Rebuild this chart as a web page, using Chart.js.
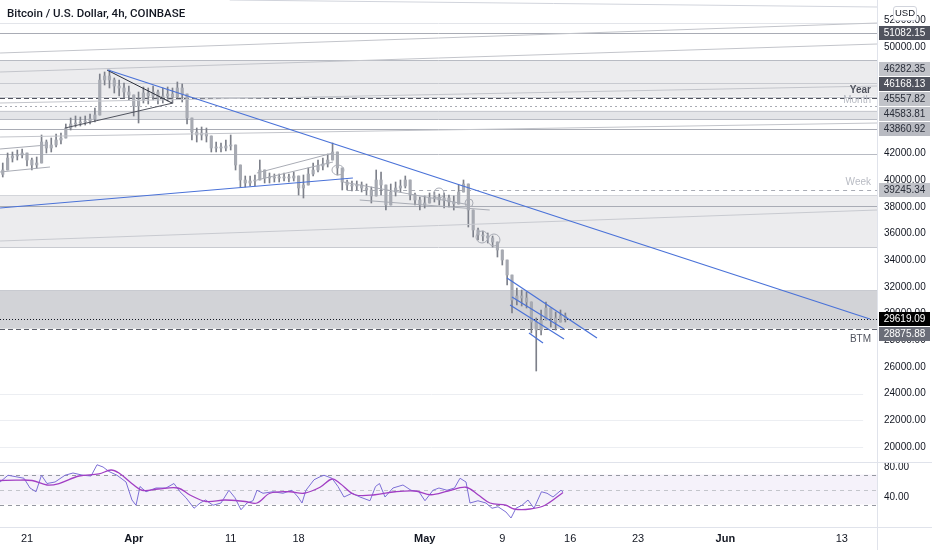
<!DOCTYPE html>
<html><head><meta charset="utf-8">
<script src="https://cdn.jsdelivr.net/npm/chart.js@4.4.1/dist/chart.umd.min.js"></script>
<style>
html,body{margin:0;padding:0;background:#fff;width:932px;height:550px;overflow:hidden;}
#wrap{position:relative;width:932px;height:550px;}
#pc{position:absolute;left:0;top:0;}
#rc{position:absolute;left:0;top:462px;}
#title{position:absolute;left:7px;top:6px;font:500 11.5px Roboto,"Liberation Sans",sans-serif;color:#131722;white-space:nowrap;}
#usd{position:absolute;left:893px;top:6px;width:22px;height:13px;line-height:13px;text-align:center;font:9.5px "Liberation Sans",sans-serif;color:#131722;background:#fff;border:1px solid #d1d4dc;border-radius:3px;}
</style></head>
<body><div id="wrap">
<canvas id="pc" width="932" height="462"></canvas>
<canvas id="rc" width="932" height="88"></canvas>
<div id="title">Bitcoin / U.S. Dollar, 4h, COINBASE</div>
<div id="usd">USD</div>
</div>
<script>
// ---- time axis (days from 21 Mar) ----
const startDay = -2.5;
const stepDay = 0.5;
const tickDays = [0, 11, 21, 28, 41, 49, 56, 63, 72, 84];
const tickLabels = ['21', 'Apr', '11', '18', 'May', '9', '16', '23', 'Jun', '13'];
const boldTicks = ['Apr', 'May', 'Jun'];

// ---- price series (12h samples) ----
const closes = [40775,41675,41825,41900,42050,41525,41150,41300,42875,42425,
 42650,43025,43175,43925,44225,44300,44375,44450,44600,44900,
 47525,47825,47525,47075,46925,46625,46400,45575,46025,46550,
 46325,46625,46175,46325,46475,46250,46925,46475,44675,43625,
 43400,43550,43325,42425,42500,42425,42575,42650,41150,40025,
 39800,39950,40025,40775,40175,40175,40250,40175,40250,40175,
 40325,39425,39650,40475,40775,41075,41225,41525,42125,40925,
 39875,39650,39575,39650,39425,39275,38825,40025,39650,38150,
 39125,39425,39575,40025,38900,38525,38150,38300,38675,38750,
 38525,38675,38375,38225,39125,39725,37775,36275,35900,35825,
 35675,35375,34775,34025,32900,31025,31325,31175,30875,29375,
 28775,29525,30425,29675,29375,29825,29619.09];
const highs = [41300,42050,42125,42275,42350,42050,41675,41750,43400,43025,
 43175,43475,43550,44225,44675,44825,44750,44825,44975,45425,
 47975,48125,48275,47675,47525,47300,47075,46400,46625,47000,
 46925,47075,46775,46925,47000,46925,47375,47225,46475,44675,
 43925,44000,43925,43325,42875,42800,43025,43400,42650,41150,
 40325,40325,40400,41525,40775,40550,40475,40475,40550,40475,
 40625,40325,40400,40925,41300,41525,41675,41975,42800,42125,
 40925,40025,39950,39950,39875,39725,39500,40775,40625,39650,
 39725,39875,40025,40325,40025,39050,38750,38825,39050,39125,
 38975,39050,38900,38825,39650,40025,39725,37775,36425,36200,
 36050,35825,35375,34775,34025,32900,31925,31775,31625,30875,
 29675,30275,30875,30425,30125,30275,30050];
const lows = [40250,40775,41375,41525,41675,41075,40775,40925,41300,42050,
 42125,42500,42725,43175,43775,44000,44075,44150,44225,44375,
 44900,47150,46925,46550,46325,46175,46025,44825,44300,45800,
 45725,46025,45725,45800,45950,45800,46175,45875,44225,43025,
 42875,43025,42875,42125,42125,42125,42200,42275,40775,39500,
 39500,39575,39575,40025,39800,39800,39875,39875,39950,39875,
 39950,38900,38675,39650,40325,40625,40775,41000,41525,40400,
 39275,39275,39200,39275,39125,38900,38300,38825,38900,37775,
 38150,38825,39125,39425,38525,38150,37775,37925,38300,38375,
 38150,37925,38000,37775,38225,39125,36500,35750,35525,35450,
 35300,35000,34250,33650,32150,30050,30650,30575,30425,28550,
 25700,28400,29525,29000,28775,29375,29375];

// ---- RSI pane ----
const rsiDays = [-2.78,-1.96,-1.13,-0.31,0.31,0.93,1.49,2.06,2.89,3.92,4.74,5.77,6.60,7.22,7.84,8.45,9.28,10.21,10.82,11.24,
 11.65,12.27,13.30,14.33,15.15,15.77,16.39,17.22,17.84,18.40,19.18,20.0,20.82,21.44,22.06,22.68,23.30,23.71,24.33,25.36,
 26.39,27.32,27.94,28.35,28.76,29.59,30.21,30.62,31.44,32.06,32.68,33.51,34.33,35.36,35.93,36.34,36.91,37.73,38.76,39.59,
 40.41,41.03,41.86,42.47,43.30,44.07,44.64,45.26,45.67,46.49,47.32,47.94,48.56,49.38,49.90,50.41,51.03,51.65,52.27,53.04,
 53.61,54.23,55.05,55.26];
const rsiValues = [60,69,67,65,52,47,69,58,60,69,72,69,68,83,80,74,69,60,36,29,
 54,47,52,52,58,47,39,25,32,36,29,32,49,39,23,32,35,49,45,47,
 45,49,40,32,49,63,67,69,65,54,40,45,40,35,54,58,40,52,56,49,
 47,35,49,52,49,52,65,60,32,35,32,25,27,20,12,25,29,36,25,47,
 45,40,49,47];
const maDays = [-2.78,-1.13,0.52,2.06,3.30,5.36,7.42,8.66,9.48,10.62,11.86,13.51,15.57,16.80,18.45,20.41,22.47,23.71,25.05,27.11,
 28.56,30.21,31.44,32.27,33.81,35.88,37.94,40.0,41.65,43.40,45.26,46.49,47.73,49.38,50.21,51.86,53.40,55.26];
const maValues = [62,62.5,62,56,58,68,70.7,76,72,60,49,50.7,52,42.7,34,36,34,32,45,47,
 45,53,64,58,43,43,47,48,43,48,53,43,32,29,24,24,29,46];
const rsiTicks = [40, 80];
const rsiBands = [70, 50, 30];

// ---- price axis ----
const priceTicks = [20000,22000,24000,26000,28000,30000,32000,34000,36000,38000,40000,42000,44000,46000,48000,50000,52000];
const axisLabels = [51082.15, 46282.35, 46168.13, 45557.82, 44583.81, 43860.92, 39245.34, 29619.09, 28875.88];
const axisLabelBg = ['#50535e','#c1c3c9','#50535e','#c1c3c9','#c1c3c9','#b8bac1','#c1c3c9','#000000','#6a6d78'];
const axisLabelFg = ['#ffffff','#2a2e39','#ffffff','#2a2e39','#2a2e39','#2a2e39','#2a2e39','#ffffff','#ffffff'];
const lastPrice = 29619.09;

// ---- drawings ----
const zones = [[49025, 46282.35], [45225, 44583.81], [38900, 35000], [31775, 28875.88]];
const zoneFills = ['#ececee', '#e4e5e8', '#ececee', '#d2d3d7'];
const hLevels = [51800, 51082.15, 49025, 47300, 46282.35, 46168.13, 45557.82, 45225, 44583.81, 43860.92, 42000, 39245.34, 38900, 38075, 35000, 31775, 29619.09, 28875.88, 24000, 22000, 20000];
const hStyles = [
 {c:'#e3e5ea'}, {c:'#a9acb5'}, {c:'#b8bbc3'}, {c:'#c8cad0'}, {c:'#c8cad0'},
 {c:'#50535e', d:[5,3]}, {c:'#a9acb5', d:[2,3]}, {c:'#c8cad0'}, {c:'#b8bbc3'}, {c:'#a9acb5'},
 {c:'#b8bbc3'}, {c:'#a9acb5', d:[4,4], s:33}, {c:'#d3d5da'}, {c:'#a9acb5'}, {c:'#c8cad0'},
 {c:'#c8cad0'}, {c:'#131722', d:[1,2]}, {c:'#5d606b', d:[5,3]}, {c:'#eceef2', e:86.2}, {c:'#eceef2', e:86.2}, {c:'#eceef2', e:86.2}
];
const levelTexts = [['Year', 46168.13, 'bold 10px "Liberation Sans"', '#50535e', -5], ['Month', 45557.82, '10px "Liberation Sans"', '#b8bbc3', -3], ['Week', 39245.34, '10px "Liberation Sans"', '#b8bbc3', -5], ['BTM', 28875.88, '10px "Liberation Sans"', '#50535e', 13]];
const trendLines = [
 [8.35,48275, 86.9,29600], [-2.78,37925, 33.6,40175],
 [49.48,32675, 58.76,28175], [50.0,31250, 55.36,28850], [49.8,30650, 55.36,28100], [51.75,28550, 53.2,27800],
 [8.25,48275, 14.95,45800], [3.92,43925, 15.05,45800],
 [-2.78,40625, 2.37,41000], [-2.78,42350, 2.06,42650], [23.7,40025, 31.55,41375], [23.7,40550, 31.55,42050],
 [32.6,39875, 45.7,38150], [34.3,38525, 47.7,37775],
 [20.9,53525, 87.63,53000], [-2.78,49550, 87.63,51800], [-2.78,48125, 87.63,50225], [-2.78,45800, 87.63,47075], [-2.78,43250, 87.63,44300], [-2.78,35450, 87.63,37775]
];
const trendColors = ['#4a72d8','#4a72d8','#4a72d8','#4a72d8','#4a72d8','#4a72d8','#2a2e39','#50535e',
 '#a9acb5','#a9acb5','#a9acb5','#a9acb5','#a9acb5','#a9acb5','#d1d4dc','#c3c5cb','#c3c5cb','#c3c5cb','#c3c5cb','#c8cad0'];
const trendWidths = [1.2,1.2,1.2,1.2,1.2,1.2,1,1,1,1,1,1,1,1,1,1,1,1,1,1];
const circles = [[42.47,39050,5,5],[45.57,38300,4,4],[46.91,35750,6,6],[48.14,35525,6,6],[32.06,40775,6,5]];

const X_MIN = -2.784, X_MAX = 87.63;
const P_MIN = 18875, P_MAX = 53525;
const R_MIN = 0, R_MAX = 86.67;
const FONT = '"Liberation Sans", Arial, sans-serif';

const wickData = closes.map((c, i) => ({x: startDay + i * stepDay, y: [lows[i], highs[i]]}));
const bodyData = closes.map((c, i) => ({x: startDay + i * stepDay, y: [i === 0 ? lows[0] + 200 : closes[i - 1], c]}));

const trendSets = trendLines.map((t, i) => ({
  type: 'line', data: [{x: t[0], y: t[1]}, {x: t[2], y: t[3]}],
  borderColor: trendColors[i], borderWidth: trendWidths[i], pointRadius: 0, tension: 0, fill: false, order: 1
}));

const drawPlugin = {
  id: 'drawings',
  beforeDatasetsDraw(chart) {
    const {ctx, chartArea: a, scales: {x, y}} = chart;
    ctx.save();
    ctx.beginPath(); ctx.rect(a.left, a.top, a.right - a.left, a.bottom - a.top); ctx.clip();
    zones.forEach((z, i) => {
      const y1 = y.getPixelForValue(z[0]), y2 = y.getPixelForValue(z[1]);
      ctx.fillStyle = zoneFills[i];
      ctx.fillRect(a.left, y1, a.right - a.left, y2 - y1);
    });
    hLevels.forEach((v, i) => {
      const s = hStyles[i];
      const yy = Math.round(y.getPixelForValue(v)) + 0.5;
      const xs = s.s != null ? x.getPixelForValue(s.s) : a.left;
      const xe = s.e != null ? x.getPixelForValue(s.e) : a.right;
      ctx.strokeStyle = s.c; ctx.lineWidth = 1; ctx.setLineDash(s.d || []);
      ctx.beginPath(); ctx.moveTo(xs, yy); ctx.lineTo(xe, yy); ctx.stroke();
    });
    ctx.restore();
  },
  afterDatasetsDraw(chart) {
    const {ctx, chartArea: a, scales: {x, y}} = chart;
    ctx.save();
    ctx.strokeStyle = '#a9acb5'; ctx.lineWidth = 1; ctx.setLineDash([]);
    circles.forEach(c => {
      ctx.beginPath();
      ctx.ellipse(x.getPixelForValue(c[0]), y.getPixelForValue(c[1]), c[2], c[3], 0, 0, Math.PI * 2);
      ctx.stroke();
    });
    ctx.textAlign = 'right'; ctx.textBaseline = 'alphabetic';
    levelTexts.forEach(t => {
      ctx.font = t[2]; ctx.fillStyle = t[3];
      ctx.fillText(t[0], a.right - 6, y.getPixelForValue(t[1]) + t[4]);
    });
    ctx.restore();
  },
  afterDraw(chart) {
    const {ctx, chartArea: a, scales: {y}} = chart;
    ctx.save();
    ctx.strokeStyle = '#e0e3eb'; ctx.lineWidth = 1;
    ctx.beginPath(); ctx.moveTo(a.right + 0.5, 0); ctx.lineTo(a.right + 0.5, chart.height); ctx.stroke();
    const labs = axisLabels.map((v, i) => ({v, y: y.getPixelForValue(v), bg: axisLabelBg[i], fg: axisLabelFg[i]}));
    const anchor = labs.find(l => l.v === lastPrice);
    let prev = anchor.y;
    labs.filter(l => l.v > lastPrice).sort((p, q) => q.y - p.y).forEach(l => { l.y = Math.min(l.y, prev - 15); prev = l.y; });
    prev = anchor.y;
    labs.filter(l => l.v < lastPrice).sort((p, q) => p.y - q.y).forEach(l => { l.y = Math.max(l.y, prev + 15); prev = l.y; });
    ctx.font = '10px ' + FONT; ctx.textAlign = 'center'; ctx.textBaseline = 'middle';
    labs.forEach(l => {
      ctx.fillStyle = l.bg;
      ctx.fillRect(a.right + 2, Math.round(l.y) - 7, 51, 14);
      ctx.fillStyle = l.fg;
      ctx.fillText(l.v.toFixed(2), a.right + 27.5, Math.round(l.y) + 0.5);
    });
    ctx.restore();
  }
};

new Chart(document.getElementById('pc'), {
  type: 'line',
  data: {datasets: [
    ...trendSets,
    {type: 'bar', data: wickData, backgroundColor: '#7d808a', barThickness: 1, grouped: false, order: 6},
    {type: 'bar', data: bodyData, backgroundColor: '#a7aab2', borderColor: '#7d808a', borderWidth: 0, barThickness: 2.5, minBarLength: 1, grouped: false, order: 5}
  ]},
  options: {
    responsive: false, animation: false, events: [],
    layout: {padding: 0},
    plugins: {legend: {display: false}, tooltip: {enabled: false}},
    scales: {
      x: {type: 'linear', min: X_MIN, max: X_MAX, display: false, offset: false},
      y: {type: 'linear', position: 'right', min: P_MIN, max: P_MAX,
        grid: {display: false, drawTicks: false}, border: {display: false},
        ticks: {font: {family: FONT, size: 10}, color: '#131722', padding: 7, autoSkip: false, callback: v => v.toFixed(2)},
        afterBuildTicks: s => { s.ticks = priceTicks.map(v => ({value: v})); },
        afterFit: s => { s.width = 55; s.paddingTop = 0; s.paddingBottom = 0; }
      }
    }
  },
  plugins: [drawPlugin]
});

const rsiPlugin = {
  id: 'rsiBands',
  beforeDatasetsDraw(chart) {
    const {ctx, chartArea: a, scales: {y}} = chart;
    ctx.save();
    const y1 = y.getPixelForValue(rsiBands[0]), y2 = y.getPixelForValue(rsiBands[2]);
    ctx.fillStyle = 'rgba(126,87,194,0.08)';
    ctx.fillRect(a.left, y1, a.right - a.left, y2 - y1);
    rsiBands.forEach((b, i) => {
      const yy = Math.round(y.getPixelForValue(b)) + 0.5;
      ctx.strokeStyle = i === 1 ? '#c3c5cb' : '#9598a1'; ctx.lineWidth = 1; ctx.setLineDash([4, 4]);
      ctx.beginPath(); ctx.moveTo(a.left, yy); ctx.lineTo(a.right, yy); ctx.stroke();
    });
    ctx.restore();
  },
  afterDraw(chart) {
    const {ctx, chartArea: a} = chart;
    ctx.save();
    ctx.strokeStyle = '#e0e3eb'; ctx.lineWidth = 1;
    ctx.beginPath();
    ctx.moveTo(0, 0.5); ctx.lineTo(chart.width, 0.5);
    ctx.moveTo(0, a.bottom + 0.5); ctx.lineTo(chart.width, a.bottom + 0.5);
    ctx.moveTo(a.right + 0.5, 0); ctx.lineTo(a.right + 0.5, chart.height);
    ctx.stroke();
    ctx.restore();
  }
};

new Chart(document.getElementById('rc'), {
  type: 'line',
  data: {datasets: [
    {data: maDays.map((d, i) => ({x: d, y: maValues[i]})), borderColor: '#a23fc4', borderWidth: 1.3, pointRadius: 0, tension: 0.35, fill: false},
    {data: rsiDays.map((d, i) => ({x: d, y: rsiValues[i]})), borderColor: '#7c6fd6', borderWidth: 1, pointRadius: 0, tension: 0, fill: false}
  ]},
  options: {
    responsive: false, animation: false, events: [],
    layout: {padding: 0},
    plugins: {legend: {display: false}, tooltip: {enabled: false}},
    scales: {
      x: {type: 'linear', min: X_MIN, max: X_MAX, offset: false,
        grid: {display: false, drawTicks: false}, border: {display: false},
        ticks: {autoSkip: false, maxRotation: 0, padding: 5, color: '#131722',
          font: ctx => ({family: FONT, size: 11, weight: boldTicks.includes(tickLabels[ctx.index]) ? 'bold' : 'normal'}),
          callback: (v, i) => tickLabels[i]},
        afterBuildTicks: s => { s.ticks = tickDays.map(v => ({value: v})); },
        afterFit: s => { s.height = 23; s.paddingLeft = 0; s.paddingRight = 0; }
      },
      y: {type: 'linear', position: 'right', min: R_MIN, max: R_MAX,
        grid: {display: false, drawTicks: false}, border: {display: false},
        ticks: {font: {family: FONT, size: 10}, color: '#131722', padding: 7, callback: v => v.toFixed(2)},
        afterBuildTicks: s => { s.ticks = rsiTicks.map(v => ({value: v})); },
        afterFit: s => { s.width = 55; s.paddingTop = 0; s.paddingBottom = 0; }
      }
    }
  },
  plugins: [rsiPlugin]
});
</script>
</body></html>
